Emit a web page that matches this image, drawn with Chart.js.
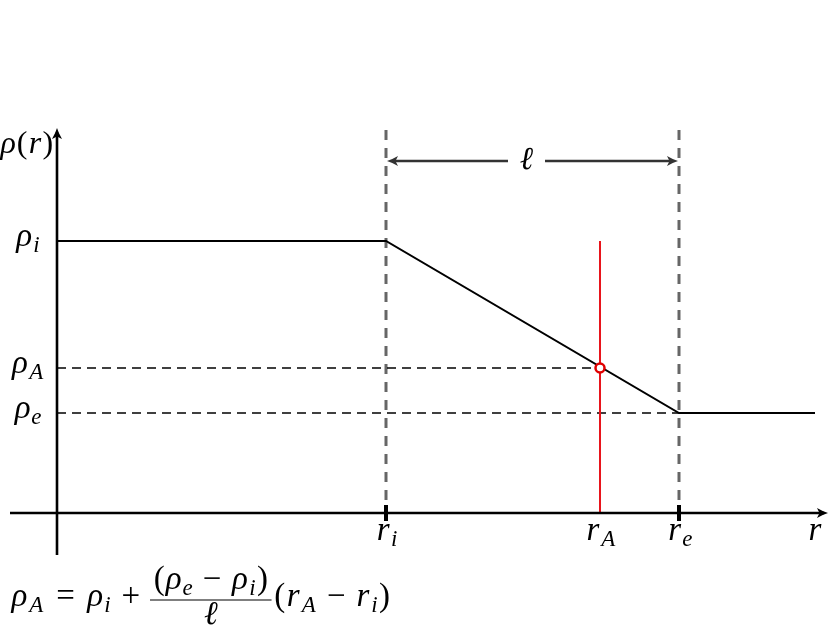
<!DOCTYPE html>
<html>
<head>
<meta charset="utf-8">
<script src="https://cdn.jsdelivr.net/npm/chart.js@4.4.1/dist/chart.umd.min.js"></script>
<style>
  html, body { margin: 0; padding: 0; background: #fff; }
  canvas { display: block; }
</style>
</head>
<body>
<canvas id="diagram" width="829" height="631"></canvas>
<script>
// Données du profil rho(r) (unités arbitraires)
const profileR = [0, 3.29, 6.22, 7.58];
const profileRho = [2.72, 2.72, 1.0, 1.0];

// Points remarquables : r_i, r_A, r_e
const markR = [3.29, 5.43, 6.22];
const markRho = [2.72, 1.45, 1.0];

// Étiquettes (lettre, indice)
const xTickLabels = [["r", "i"], ["r", "A"], ["r", "e"]];
const yTickLabels = [["ρ", "i"], ["ρ", "A"], ["ρ", "e"]];

const guideTop = 3.83;   // haut des pointillés verticaux
const ellLevel = 3.52;   // hauteur de la flèche ℓ

const rI = markR[0], rA = markR[1], rE = markR[2];
const rhoI = markRho[0], rhoA = markRho[1], rhoE = markRho[2];

const FONT = '"Liberation Serif", serif';

// chasses (en em) à la manière de Computer Modern
const ADV = { "ρ": 0.54, "r": 0.47, "A": 0.75, "i": 0.36, "e": 0.48,
              "(": 0.389, ")": 0.389, "=": 0.778, "+": 0.778, "−": 0.778, "ℓ": 0.45 };

// Texte mathématique : [texte, style] avec style "i" italique, "n" droit,
// "si" en indice ; un nombre = espace en em
function mathText(ctx, items, x, y, size, draw) {
  let cx = x;
  for (const it of items) {
    if (typeof it === "number") { cx += it * size; continue; }
    const [t, st] = it;
    const sub = st[0] === "s";
    const fs = sub ? size * 0.7 : size;
    ctx.font = (st.endsWith("i") ? "italic " : "") + Math.round(fs * 1.06) + "px " + FONT;
    const w = ctx.measureText(t).width;
    const adv = ADV[t] ? ADV[t] * fs : w;
    if (draw) ctx.fillText(t, cx + (adv - w) / 2, y + (sub ? size * 0.2 : 0));
    cx += adv;
  }
  return cx - x;
}

function mathAt(ctx, items, x, y, size, align) {
  const w = mathText(ctx, items, 0, 0, size, false);
  let x0 = x;
  if (align === "center") x0 = x - w / 2;
  if (align === "right") x0 = x - w;
  mathText(ctx, items, x0, y, size, true);
  return w;
}

// Pointe de flèche style LaTeX
function arrowHead(ctx, x, y, angle, color) {
  ctx.save();
  ctx.translate(x, y);
  ctx.rotate(angle);
  ctx.fillStyle = color;
  ctx.beginPath();
  ctx.moveTo(0, 0);
  ctx.quadraticCurveTo(-5, -1.5, -11, -5);
  ctx.lineTo(-8.5, 0);
  ctx.lineTo(-11, 5);
  ctx.quadraticCurveTo(-5, 1.5, 0, 0);
  ctx.closePath();
  ctx.fill();
  ctx.restore();
}

function line(ctx, x1, y1, x2, y2, color, width) {
  ctx.strokeStyle = color;
  ctx.lineWidth = width;
  ctx.beginPath();
  ctx.moveTo(x1, y1);
  ctx.lineTo(x2, y2);
  ctx.stroke();
}

// Axes, flèches et étiquettes
const diagramPlugin = {
  id: "diagram",
  afterDatasetsDraw(chart) {
    const ctx = chart.ctx;
    const xs = chart.scales.x, ys = chart.scales.y;
    const area = chart.chartArea;
    const x0 = xs.getPixelForValue(0);
    const y0 = ys.getPixelForValue(0);

    ctx.save();
    ctx.lineCap = "butt";

    // axe r
    line(ctx, area.left, y0, area.right - 4, y0, "#000", 2.6);
    arrowHead(ctx, area.right, y0, 0, "#000");
    // axe rho
    line(ctx, x0, area.bottom, x0, area.top + 12, "#000", 2.6);
    arrowHead(ctx, x0, area.top + 8, -Math.PI / 2, "#000");

    // graduations r_i et r_e
    [rI, rE].forEach(r => {
      const px = xs.getPixelForValue(r);
      line(ctx, px, y0 - 8, px, y0 + 8, "#000", 4);
    });

    // flèche ℓ
    const yl = ys.getPixelForValue(ellLevel);
    const xa = xs.getPixelForValue(rI), xb = xs.getPixelForValue(rE);
    const xm = (xa + xb) / 2 - 6;
    line(ctx, xa + 8, yl, xm - 18.5, yl, "#333", 2.6);
    line(ctx, xm + 18.5, yl, xb - 8, yl, "#333", 2.6);
    arrowHead(ctx, xa + 1, yl, Math.PI, "#333");
    arrowHead(ctx, xb - 1, yl, 0, "#333");

    ctx.fillStyle = "#000";
    ctx.textBaseline = "alphabetic";
    mathAt(ctx, [["ℓ", "i"]], xm, yl + 8, 30, "center");

    // étiquettes de l'axe r
    xTickLabels.forEach((lab, k) => {
      const px = xs.getPixelForValue(markR[k]);
      mathAt(ctx, [[lab[0], "i"], [lab[1], "si"]], px + 1, y0 + 27, 31, "center");
    });
    mathAt(ctx, [["r", "i"]], area.right - 13, y0 + 27, 31, "center");

    // étiquettes de l'axe rho
    yTickLabels.forEach((lab, k) => {
      const py = ys.getPixelForValue(markRho[k]);
      mathAt(ctx, [[lab[0], "i"], [lab[1], "si"]], 28, py + 5, 31, "center");
    });
    mathAt(ctx, [["ρ", "i"], ["(", "n"], ["r", "i"], [")", "n"]], 0, area.top + 33, 30, "left");

    // formule
    const fs = 31.5, base = 606;
    let cx = 11;
    cx += mathText(ctx, [["ρ", "i"], ["A", "si"], 0.278, ["=", "n"], 0.278, ["ρ", "i"], ["i", "si"], 0.222, ["+", "n"], 0.222], cx, base, fs, true);
    const numItems = [["(", "n"], ["ρ", "i"], ["e", "si"], 0.222, ["−", "n"], 0.222, ["ρ", "i"], ["i", "si"], [")", "n"]];
    const numW = mathText(ctx, numItems, 0, 0, fs, false);
    const fracW = numW + 6;
    mathText(ctx, numItems, cx + 3, base - 17, fs, true);
    line(ctx, cx, base - 6, cx + fracW, base - 6, "#000", 1.2);
    mathAt(ctx, [["ℓ", "i"]], cx + fracW / 2, base + 18, fs, "center");
    cx += fracW + 2;
    mathText(ctx, [["(", "n"], ["r", "i"], ["A", "si"], 0.222, ["−", "n"], 0.222, ["r", "i"], ["i", "si"], [")", "n"]], cx, base, fs, true);

    ctx.restore();
  }
};

const seg = (xa, ya, xb, yb) => [{ x: xa, y: ya }, { x: xb, y: yb }];

new Chart(document.getElementById("diagram"), {
  type: "scatter",
  data: {
    datasets: [
      {
        // point A
        data: [{ x: rA, y: rhoA }],
        pointRadius: 4.5,
        pointBorderWidth: 2.5,
        pointBorderColor: "#e00000",
        pointBackgroundColor: "#fff",
        showLine: false
      },
      {
        data: profileR.map((r, k) => ({ x: r, y: profileRho[k] })),
        showLine: true, borderColor: "#000", borderWidth: 2, pointRadius: 0
      },
      {
        data: seg(rA, 0, rA, rhoI),
        showLine: true, borderColor: "#e8141b", borderWidth: 2, pointRadius: 0
      },
      {
        data: seg(0, rhoA, rA, rhoA),
        showLine: true, borderColor: "#000", borderWidth: 1.3, borderDash: [9, 6], pointRadius: 0
      },
      {
        data: seg(0, rhoE, rE, rhoE),
        showLine: true, borderColor: "#000", borderWidth: 1.3, borderDash: [9, 6], pointRadius: 0
      },
      {
        data: seg(rI, guideTop, rI, 0),
        showLine: true, borderColor: "#666", borderWidth: 3, borderDash: [10, 8], pointRadius: 0
      },
      {
        data: seg(rE, guideTop, rE, 0),
        showLine: true, borderColor: "#666", borderWidth: 3, borderDash: [10, 8], pointRadius: 0
      }
    ]
  },
  options: {
    responsive: false,
    animation: false,
    layout: { autoPadding: false, padding: { left: 10, right: 1, top: 120, bottom: 76 } },
    scales: {
      x: { type: "linear", min: -0.47, max: 7.71, display: false },
      y: { type: "linear", min: -0.42, max: 3.93, display: false }
    },
    plugins: {
      legend: { display: false },
      tooltip: { enabled: false }
    }
  },
  plugins: [diagramPlugin]
});
</script>
</body>
</html>
